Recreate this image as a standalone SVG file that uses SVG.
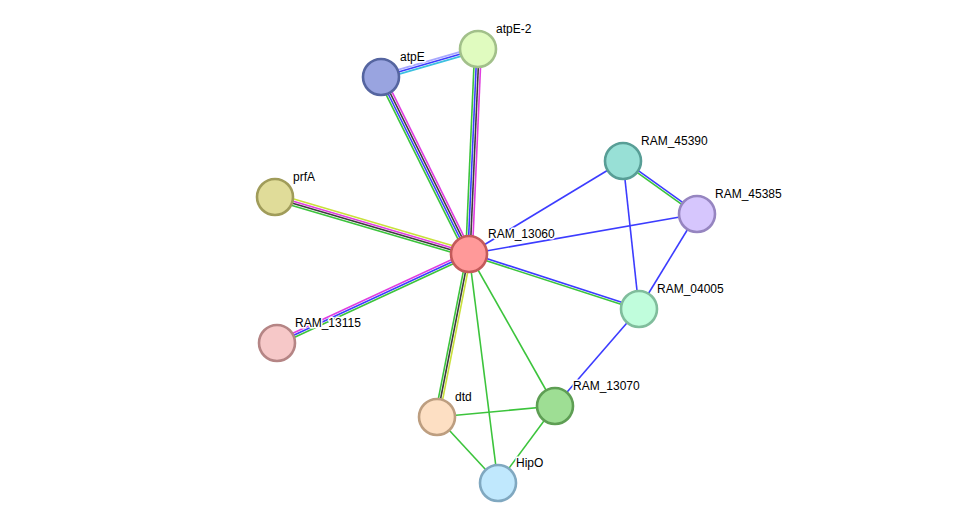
<svg xmlns="http://www.w3.org/2000/svg" width="976" height="529" viewBox="0 0 976 529">
<style>
line{stroke-width:1.6;fill:none}
.g{stroke:#3cc43c}.b{stroke:#3c3cff}.k{stroke:#3c3c3c}.m{stroke:#e03ce0}.y{stroke:#c8e03a}.c{stroke:#3cc0e0}.l{stroke:#a8a8ff}
circle{stroke-width:2.6}
text{font-family:"Liberation Sans",Arial,sans-serif;font-size:12px;fill:#000;stroke:#fff;stroke-width:3px;paint-order:stroke;stroke-linejoin:round}
</style>
<rect width="976" height="529" fill="#fff"/>
<g id="connectors">
<line class="g" x1="466.05" y1="255.47" x2="378.05" y2="78.47"/>
<line class="b" x1="468.02" y1="254.49" x2="380.02" y2="77.49"/>
<line class="k" x1="469.98" y1="253.51" x2="381.98" y2="76.51"/>
<line class="m" x1="471.95" y1="252.53" x2="383.95" y2="75.53"/>
<line class="g" x1="465.7" y1="253.86" x2="474.7" y2="48.86"/>
<line class="b" x1="467.9" y1="253.95" x2="476.9" y2="48.95"/>
<line class="k" x1="470.1" y1="254.05" x2="479.1" y2="49.05"/>
<line class="m" x1="472.3" y1="254.14" x2="481.3" y2="49.14"/>
<line class="l" x1="380.39" y1="74.89" x2="477.39" y2="46.89"/>
<line class="b" x1="381" y1="77" x2="478" y2="49"/>
<line class="c" x1="381.61" y1="79.11" x2="478.61" y2="51.11"/>
<line class="y" x1="275.93" y1="193.84" x2="469.93" y2="250.84"/>
<line class="m" x1="275.31" y1="195.95" x2="469.31" y2="252.95"/>
<line class="k" x1="274.69" y1="198.05" x2="468.69" y2="255.05"/>
<line class="g" x1="274.07" y1="200.16" x2="468.07" y2="257.16"/>
<line class="m" x1="276.07" y1="341" x2="468.07" y2="252"/>
<line class="b" x1="277" y1="343" x2="469" y2="254"/>
<line class="g" x1="277.93" y1="345" x2="469.93" y2="256"/>
<line class="g" x1="434.84" y1="416.58" x2="466.84" y2="253.58"/>
<line class="k" x1="437" y1="417" x2="469" y2="254"/>
<line class="y" x1="439.16" y1="417.42" x2="471.16" y2="254.42"/>
<line class="g" x1="469" y1="254" x2="498" y2="483"/>
<line class="g" x1="469" y1="254" x2="555" y2="406"/>
<line class="b" x1="469.34" y1="252.95" x2="639.34" y2="307.95"/>
<line class="g" x1="468.66" y1="255.05" x2="638.66" y2="310.05"/>
<line class="b" x1="469" y1="254" x2="623" y2="161"/>
<line class="b" x1="469" y1="254" x2="697" y2="214"/>
<line class="b" x1="623.64" y1="160.11" x2="697.64" y2="213.11"/>
<line class="g" x1="622.36" y1="161.89" x2="696.36" y2="214.89"/>
<line class="b" x1="623" y1="161" x2="639" y2="309"/>
<line class="b" x1="697" y1="214" x2="639" y2="309"/>
<line class="b" x1="639" y1="309" x2="555" y2="406"/>
<line class="g" x1="555" y1="406" x2="437" y2="417"/>
<line class="g" x1="555" y1="406" x2="498" y2="483"/>
<line class="g" x1="437" y1="417" x2="498" y2="483"/>
</g>
<g id="atpE"><circle cx="381" cy="77" r="18" fill="#99a4e0" stroke="#5565a0"/><text x="400" y="61">atpE</text></g>
<g id="atpE-2"><circle cx="478" cy="49" r="18" fill="#e0fbbf" stroke="#a2c08a"/><text x="496" y="33">atpE-2</text></g>
<g id="prfA"><circle cx="275" cy="197" r="18" fill="#e0dc99" stroke="#a09c5a"/><text x="293" y="181">prfA</text></g>
<g id="RAM_13115"><circle cx="277" cy="343" r="18" fill="#f6c8c8" stroke="#b58585"/><text x="295" y="327">RAM_13115</text></g>
<g id="dtd"><circle cx="437" cy="417" r="18" fill="#fddfc3" stroke="#bd9e80"/><text x="455" y="401">dtd</text></g>
<g id="HipO"><circle cx="498" cy="483" r="18" fill="#c0e8fd" stroke="#80a8c0"/><text x="516" y="467">HipO</text></g>
<g id="RAM_13070"><circle cx="555" cy="406" r="18" fill="#9ede94" stroke="#5e9e54"/><text x="573" y="390">RAM_13070</text></g>
<g id="RAM_04005"><circle cx="639" cy="309" r="18" fill="#c0fddc" stroke="#80bd9c"/><text x="657" y="293">RAM_04005</text></g>
<g id="RAM_45390"><circle cx="623" cy="161" r="18" fill="#98e0d6" stroke="#589e96"/><text x="641" y="145">RAM_45390</text></g>
<g id="RAM_45385"><circle cx="697" cy="214" r="18" fill="#d6c6fd" stroke="#9685c0"/><text x="715" y="198">RAM_45385</text></g>
<g id="RAM_13060"><circle cx="469" cy="254" r="18" fill="#ff9999" stroke="#c35a5a"/><text x="488" y="238">RAM_13060</text></g>
</svg>
